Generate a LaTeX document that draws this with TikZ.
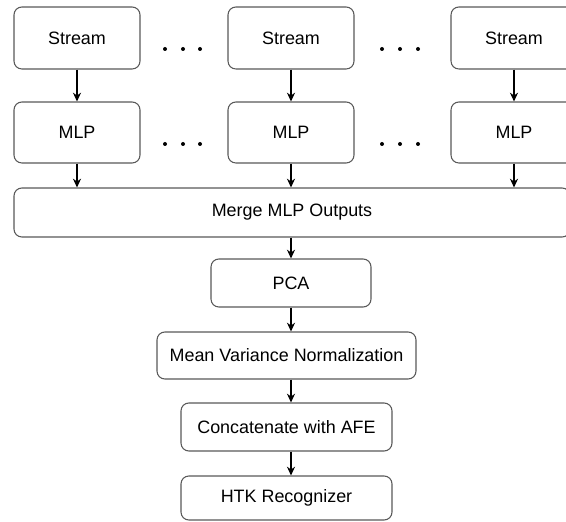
\documentclass[tikz,border=0pt]{standalone}
\usepackage{fontspec}
\setmainfont{Liberation Sans}
\usetikzlibrary{arrows.meta}

\tikzset{
    blok/.style={draw=black!65, line width=0.6pt, rounded corners=4.5pt,
        fill=white, inner sep=0pt, font=\fontsize{10.2}{12}\selectfont},
    strelka/.style={-{Stealth[length=5pt,width=4.6pt]}, line width=0.7pt},
}

\begin{document}
\begin{tikzpicture}

    % рамка рисунка
    \useasboundingbox (0,0) rectangle (11.32,10.42);
    \clip (0,0) rectangle (11.32,10.42);

    % потоки
    \node[blok, minimum width=2.52cm, minimum height=1.24cm] (s1) at (1.54,9.66) {Stream};
    \node[blok, minimum width=2.52cm, minimum height=1.24cm] (s2) at (5.82,9.66) {Stream};
    \node[blok, minimum width=2.52cm, minimum height=1.24cm] (s3) at (10.28,9.66) {Stream};

    % сети MLP
    \node[blok, minimum width=2.52cm, minimum height=1.22cm] (m1) at (1.54,7.77) {MLP};
    \node[blok, minimum width=2.52cm, minimum height=1.22cm] (m2) at (5.82,7.77) {MLP};
    \node[blok, minimum width=2.52cm, minimum height=1.22cm] (m3) at (10.28,7.77) {MLP};

    % объединение и дальнейшая обработка
    \node[blok, minimum width=11.12cm, minimum height=0.98cm] (merge) at (5.84,6.17) {Merge MLP Outputs};
    \node[blok, minimum width=3.2cm, minimum height=0.96cm] (pca) at (5.82,4.76) {PCA};
    \node[blok, minimum width=5.18cm, minimum height=0.94cm] (mvn) at (5.73,3.31) {Mean Variance Normalization};
    \node[blok, minimum width=4.22cm, minimum height=0.96cm] (afe) at (5.73,1.88) {Concatenate with AFE};
    \node[blok, minimum width=4.22cm, minimum height=0.88cm] (htk) at (5.73,0.46) {HTK Recognizer};

    % многоточия
    \fill (3.30,9.44) circle (0.04) (3.66,9.44) circle (0.04) (4.00,9.44) circle (0.04);
    \fill (7.64,9.44) circle (0.04) (8.00,9.44) circle (0.04) (8.36,9.44) circle (0.04);
    \fill (3.30,7.54) circle (0.04) (3.66,7.54) circle (0.04) (4.00,7.54) circle (0.04);
    \fill (7.64,7.54) circle (0.04) (8.00,7.54) circle (0.04) (8.36,7.54) circle (0.04);

    % стрелки поток -> MLP
    \draw[strelka] (s1) -- (m1);
    \draw[strelka] (s2) -- (m2);
    \draw[strelka] (s3) -- (m3);

    % стрелки MLP -> объединение
    \draw[strelka] (m1.south) -- (m1.south |- merge.north);
    \draw[strelka] (m2.south) -- (m2.south |- merge.north);
    \draw[strelka] (m3.south) -- (m3.south |- merge.north);

    % цепочка вниз
    \draw[strelka] (pca.north |- merge.south) -- (pca.north);
    \draw[strelka] (pca.south) -- (pca.south |- mvn.north);
    \draw[strelka] (pca.south |- mvn.south) -- (pca.south |- afe.north);
    \draw[strelka] (pca.south |- afe.south) -- (pca.south |- htk.north);

\end{tikzpicture}
\end{document}
